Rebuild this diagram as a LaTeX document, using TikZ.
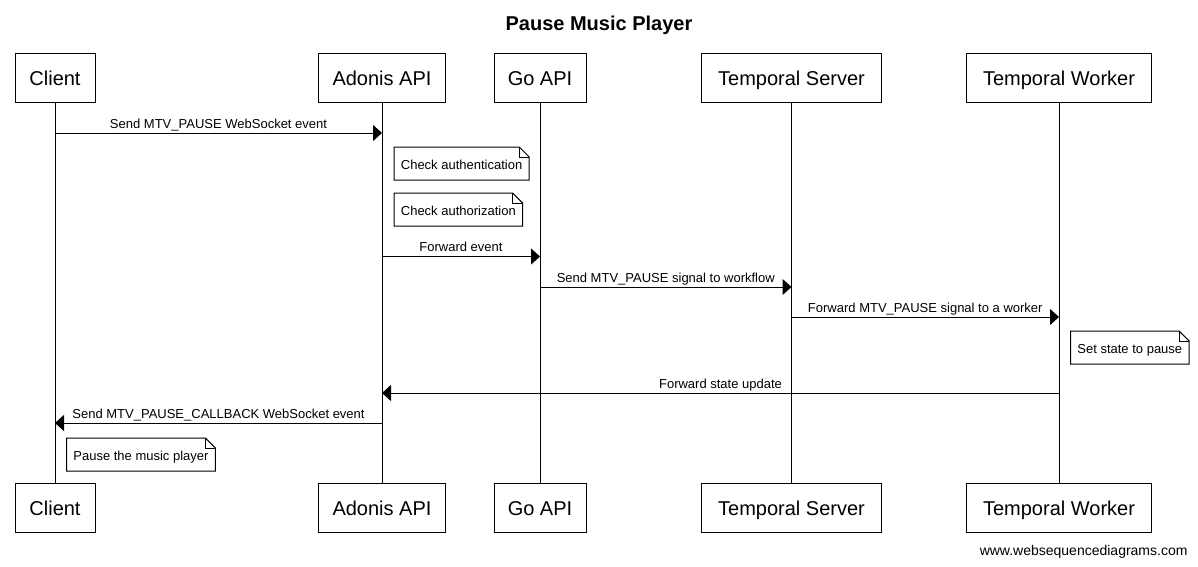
\documentclass[tikz,border=0pt]{standalone}
\usepackage{fontspec}
\setmainfont{Liberation Sans}
\usetikzlibrary{arrows.meta}
% note with a folded top-right corner
\newcommand{\foldnote}[1]{%
  \draw (#1.north west) -- ([xshift=-10pt]#1.north east) -- ([yshift=-10pt]#1.north east) -- (#1.south east) -- (#1.south west) -- cycle;
  \draw ([xshift=-10pt]#1.north east) |- ([yshift=-10pt]#1.north east);}

\begin{document}
\begin{tikzpicture}[x=1pt,y=-1pt,line width=1pt]
    \useasboundingbox (0,0) rectangle (1198,566);
    \tikzstyle{actor}=[rectangle,draw,inner xsep=0pt,minimum height=49pt,text height=14.5pt,text depth=0pt,font=\fontsize{20}{24}\selectfont]  % participant box
    \tikzstyle{note}=[rectangle,anchor=north west,inner xsep=6.4pt,minimum height=32pt,text height=11pt,text depth=0pt,font=\fontsize{13}{15}\selectfont]  % note text
    \tikzstyle{msg}=[-{Triangle[length=9pt,width=16pt]}]  % message arrow
    \tikzstyle{lbl}=[anchor=base,yshift=5pt,inner sep=0pt,font=\fontsize{13}{15}\selectfont]  % message label

    % title
    \node[anchor=base,font=\fontsize{20}{24}\selectfont\bfseries] (title) at (599,30) {Pause Music Player};

    % participants, top
    \node[actor,minimum width=80pt] (cT) at (55,77.8) {Client};
    \node[actor,minimum width=127pt] (aT) at (382,77.8) {Adonis API};
    \node[actor,minimum width=92pt] (gT) at (540,77.8) {Go API};
    \node[actor,minimum width=180pt] (sT) at (791.5,77.8) {Temporal Server};
    \node[actor,minimum width=185pt] (wT) at (1059,77.8) {Temporal Worker};
    % participants, bottom
    \node[actor,minimum width=80pt] (cB) at (55,507.8) {Client};
    \node[actor,minimum width=127pt] (aB) at (382,507.8) {Adonis API};
    \node[actor,minimum width=92pt] (gB) at (540,507.8) {Go API};
    \node[actor,minimum width=180pt] (sB) at (791.5,507.8) {Temporal Server};
    \node[actor,minimum width=185pt] (wB) at (1059,507.8) {Temporal Worker};

    % lifelines
    \draw (cT) -- (cB);
    \draw (aT) -- (aB);
    \draw (gT) -- (gB);
    \draw (sT) -- (sB);
    \draw (wT) -- (wB);

    % messages and notes
    \draw[msg] (cT |- 0,133) -- node[lbl]{Send MTV\_PAUSE WebSocket event} (aT |- 0,133);
    \node[note] (n1) at (394,147) {Check authentication};
    \foldnote{n1}
    \node[note] (n2) at (394,193) {Check authorization};
    \foldnote{n2}
    \draw[msg] (aT |- 0,256.5) -- node[lbl]{Forward event} (gT |- 0,256.5);
    \draw[msg] (gT |- 0,287) -- node[lbl]{Send MTV\_PAUSE signal to workflow} (sT |- 0,287);
    \draw[msg] (sT |- 0,317) -- node[lbl]{Forward MTV\_PAUSE signal to a worker} (wT |- 0,317);
    \node[note] (n3) at (1070.5,331) {Set state to pause};
    \foldnote{n3}
    \draw[msg] (wT |- 0,393) -- node[lbl]{Forward state update} (aT |- 0,393);
    \draw[msg] (aT |- 0,423) -- node[lbl]{Send MTV\_PAUSE\_CALLBACK WebSocket event} (cT |- 0,423);
    \node[note] (n4) at (66.5,438) {Pause the music player};
    \foldnote{n4}

    % watermark
    \node[anchor=base east,inner sep=0pt,font=\fontsize{14}{16}\selectfont] (wsd) at (1188,555) {www.websequencediagrams.com};
\end{tikzpicture}
\end{document}
